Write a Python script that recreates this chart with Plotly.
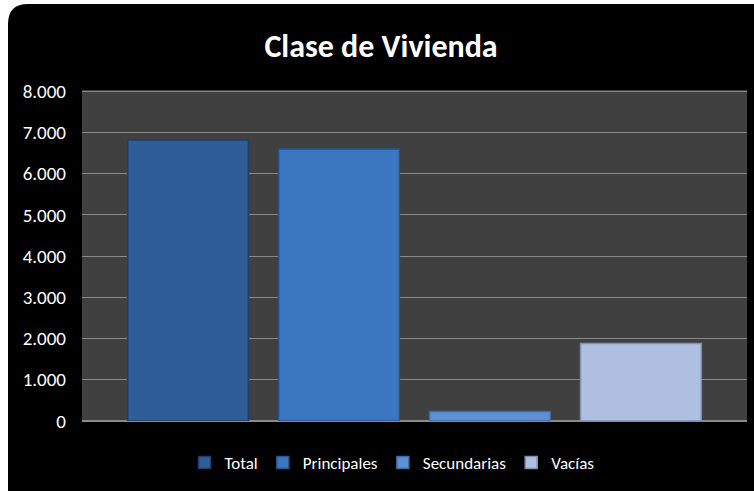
import plotly.graph_objects as go

# Housing counts by class
series = ["Total", "Principales", "Secundarias", "Vacías"]
values = [6820, 6600, 230, 1880]
fills = ["#2f5d97", "#3b77c0", "#5f91d2", "#aebfe0"]
edges = ["#1f3f69", "#285489", "#3f6aa5", "#7f91b3"]
y_ticks = [0, 1000, 2000, 3000, 4000, 5000, 6000, 7000, 8000]

FONT = "Carlito, 'Open Sans', sans-serif"

fig = go.Figure()
for name, v, fc, ec in zip(series, values, fills, edges):
    fig.add_trace(go.Bar(
        name=name, x=[""], y=[v],
        marker=dict(color=fc, line=dict(color=ec, width=1.5)),
        hoverinfo="name+y",
    ))

# plot area geometry in pixels, used for the rounded black panel
W, H = 754, 491
L, R, T, B = 82, 7, 90, 70
pw, ph = W - L - R, H - T - B


def px(x):
    return (x - L) / pw


def py(y):
    return (H - B - y) / ph


x0, x1, y0, y1, r = 8, 770, 4, 510, 20
panel = (
    f"M {px(x0 + r)},{py(y0)} L {px(x1)},{py(y0)} L {px(x1)},{py(y1)} "
    f"L {px(x0 + r)},{py(y1)} Q {px(x0)},{py(y1)} {px(x0)},{py(y1 - r)} "
    f"L {px(x0)},{py(y0 + r)} Q {px(x0)},{py(y0)} {px(x0 + r)},{py(y0)} Z"
)

fig.update_layout(
    width=W, height=H,
    margin=dict(l=L, r=R, t=T, b=B),
    paper_bgcolor="white",
    plot_bgcolor="rgba(0,0,0,0)",
    separators=",.",
    barmode="group",
    bargap=0.092,
    bargroupgap=0.2,
    title=dict(text="<b>Clase de Vivienda</b>", x=381 / W, xref="container", xanchor="center",
               y=1 - 46 / H, yanchor="middle",
               font=dict(family=FONT, size=32, color="white")),
    font=dict(family=FONT, color="white", size=19),
    showlegend=True,
    legend=dict(orientation="h", x=392 / W, xref="container", xanchor="center",
                y=1 - 463 / H, yref="container", yanchor="middle",
                font=dict(size=17, color="white"),
                bgcolor="rgba(0,0,0,0)", traceorder="normal", itemwidth=30),
    shapes=[
        dict(type="path", path=panel, xref="paper", yref="paper",
             fillcolor="black", line=dict(width=0), layer="below"),
        dict(type="rect", x0=0, x1=1, y0=0, y1=1, xref="paper", yref="paper",
             fillcolor="#404040", line=dict(width=0), layer="below"),
    ],
    xaxis=dict(showticklabels=False, showgrid=False, zeroline=False, fixedrange=True),
    yaxis=dict(range=[0, 8030], tickvals=y_ticks, tickformat=",d",
               gridcolor="#8a8a8a", gridwidth=1, zeroline=True, zerolinecolor="#8a8a8a",
               showline=False, ticks="", ticklabelstandoff=15,
               tickfont=dict(size=19, color="white")),
)

fig.write_html("out.html")
